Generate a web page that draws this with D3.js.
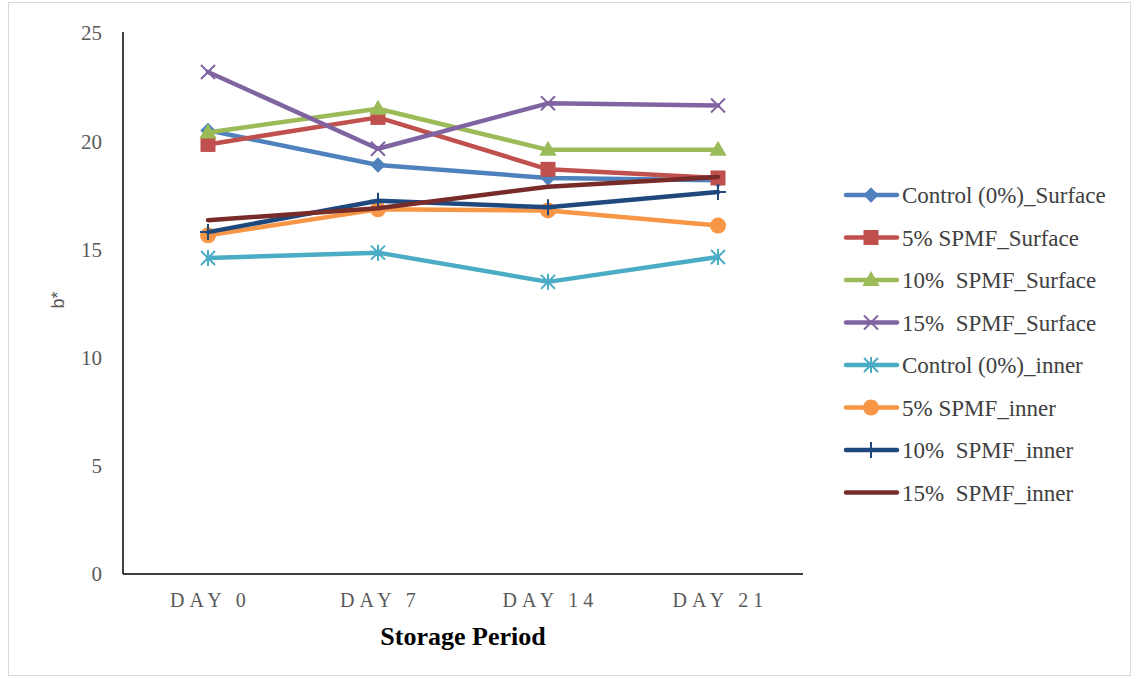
<!DOCTYPE html>
<html>
<head>
<meta charset="utf-8">
<script src="https://cdn.jsdelivr.net/npm/d3@7"></script>
<style>
  body { margin: 0; background: #fff; }
  svg { display: block; }
</style>
</head>
<body>
<div id="chart"></div>
<script>
// chart size
const width = 1139
const height = 679
const margin = {top: 33, right: 336, bottom: 105, left: 123}

// data
const days = ["DAY 0", "DAY 7", "DAY 14", "DAY 21"]
const seriesNames = [
  "Control (0%)_Surface",
  "5% SPMF_Surface",
  "10%  SPMF_Surface",
  "15%  SPMF_Surface",
  "Control (0%)_inner",
  "5% SPMF_inner",
  "10%  SPMF_inner",
  "15%  SPMF_inner"
]
const controlSurface = [20.5, 18.9, 18.3, 18.2]
const spmf5Surface = [19.85, 21.1, 18.7, 18.3]
const spmf10Surface = [20.4, 21.5, 19.6, 19.6]
const spmf15Surface = [23.2, 19.65, 21.75, 21.65]
const controlInner = [14.6, 14.85, 13.5, 14.65]
const spmf5Inner = [15.65, 16.85, 16.8, 16.1]
const spmf10Inner = [15.8, 17.25, 16.95, 17.65]
const spmf15Inner = [16.35, 16.9, 17.9, 18.35]
const yTicks = [0, 5, 10, 15, 20, 25]

const colours = ["#4F81BD", "#C0504D", "#9BBB59", "#8064A2", "#4BACC6", "#F79646", "#1F497D", "#772C2A"]
const markers = ["diamond", "square", "triangle", "x", "asterisk", "circle", "plus", "none"]

const series = [controlSurface, spmf5Surface, spmf10Surface, spmf15Surface,
                controlInner, spmf5Inner, spmf10Inner, spmf15Inner]
  .map((vals, i) => ({name: seriesNames[i], values: vals, colour: colours[i], marker: markers[i]}))

const serif = "'Liberation Serif', 'Times New Roman', serif"

const svg = d3.select("#chart")
  .append("svg")
  .attr("width", width)
  .attr("height", height)

// light outer frame like the original chart area
svg.append("rect")
  .attr("x", 8.5).attr("y", 2.5)
  .attr("width", 1122).attr("height", 673)
  .attr("fill", "none")
  .attr("stroke", "#d9d9d9")

const x = d3.scalePoint()
  .domain(days)
  .range([margin.left, width - margin.right])
  .padding(0.5)

const y = d3.scaleLinear()
  .domain([0, 25])
  .range([height - margin.bottom - 0, margin.top])

// axes lines
svg.append("line")
  .attr("x1", margin.left).attr("x2", margin.left)
  .attr("y1", y(25) - 1).attr("y2", y(0))
  .attr("stroke", "#000").attr("stroke-width", 1.5)
svg.append("line")
  .attr("x1", margin.left).attr("x2", width - margin.right)
  .attr("y1", y(0)).attr("y2", y(0))
  .attr("stroke", "#000").attr("stroke-width", 1.5)

// y tick labels
svg.selectAll(".ytick")
  .data(yTicks)
  .enter().append("text")
  .attr("class", "ytick")
  .attr("x", 102)
  .attr("y", d => y(d))
  .attr("dy", "0.35em")
  .attr("text-anchor", "end")
  .style("font-family", serif)
  .style("font-size", "21px")
  .style("fill", "#595959")
  .text(d => d)

// x tick labels (wide letter spacing as in original)
svg.selectAll(".xtick")
  .data(days)
  .enter().append("text")
  .attr("class", "xtick")
  .attr("x", d => x(d) + 2.5)
  .attr("y", 607)
  .attr("text-anchor", "middle")
  .style("font-family", serif)
  .style("font-size", "20px")
  .style("letter-spacing", "5px")
  .style("fill", "#595959")
  .text(d => d)

// axis titles
svg.append("text")
  .attr("x", 463).attr("y", 645)
  .attr("text-anchor", "middle")
  .style("font-family", serif)
  .style("font-size", "26px")
  .style("font-weight", "bold")
  .style("fill", "#000")
  .text("Storage Period")

svg.append("text")
  .attr("transform", "translate(64,300) rotate(-90)")
  .attr("text-anchor", "middle")
  .style("font-family", "'Liberation Sans', Arial, sans-serif")
  .style("font-size", "18px")
  .style("fill", "#595959")
  .text("b*")

// marker drawing helper
const drawMarker = (g, type, colour, cx, cy) => {
  if (type === "diamond") {
    g.append("path").attr("d", d3.symbol(d3.symbolDiamond2, 150)())
      .attr("transform", `translate(${cx},${cy})`).attr("fill", colour)
  } else if (type === "square") {
    g.append("rect").attr("x", cx - 7.5).attr("y", cy - 7.5)
      .attr("width", 15).attr("height", 15).attr("fill", colour)
  } else if (type === "triangle") {
    g.append("path").attr("d", d3.symbol(d3.symbolTriangle, 130)())
      .attr("transform", `translate(${cx},${cy + 1})`).attr("fill", colour)
  } else if (type === "circle") {
    g.append("circle").attr("cx", cx).attr("cy", cy).attr("r", 8).attr("fill", colour)
  } else if (type === "x") {
    const s = 7
    g.append("path")
      .attr("d", `M${cx - s},${cy - s}L${cx + s},${cy + s}M${cx - s},${cy + s}L${cx + s},${cy - s}`)
      .attr("stroke", colour).attr("stroke-width", 2).attr("fill", "none")
  } else if (type === "asterisk") {
    const s = 7
    g.append("path")
      .attr("d", `M${cx - s},${cy - s}L${cx + s},${cy + s}M${cx - s},${cy + s}L${cx + s},${cy - s}M${cx},${cy - s - 1}L${cx},${cy + s + 1}`)
      .attr("stroke", colour).attr("stroke-width", 2).attr("fill", "none")
  } else if (type === "plus") {
    const s = 8
    g.append("path")
      .attr("d", `M${cx - s},${cy}L${cx + s},${cy}M${cx},${cy - s}L${cx},${cy + s}`)
      .attr("stroke", colour).attr("stroke-width", 2).attr("fill", "none")
  }
}

const line = d3.line()
  .x((d, i) => x(days[i]))
  .y(d => y(d))

// series lines and markers
series.forEach(s => {
  const g = svg.append("g")
  g.append("path")
    .attr("d", line(s.values))
    .attr("fill", "none")
    .attr("stroke", s.colour)
    .attr("stroke-width", 4.5)
    .attr("stroke-linejoin", "round")
    .attr("stroke-linecap", "round")
  s.values.forEach((v, i) => drawMarker(g, s.marker, s.colour, x(days[i]), y(v)))
})

// legend
const legend = svg.append("g")
series.forEach((s, i) => {
  const ly = 195 + i * 42.5
  legend.append("line")
    .attr("x1", 846).attr("x2", 897)
    .attr("y1", ly).attr("y2", ly)
    .attr("stroke", s.colour).attr("stroke-width", 4.5)
    .attr("stroke-linecap", "round")
  drawMarker(legend, s.marker, s.colour, 871, ly)
  legend.append("text")
    .attr("x", 902).attr("y", ly)
    .attr("dy", "0.35em")
    .style("font-family", serif)
    .style("font-size", "23px")
    .style("fill", "#404040")
    .style("white-space", "pre")
    .text(s.name)
})
</script>
</body>
</html>
